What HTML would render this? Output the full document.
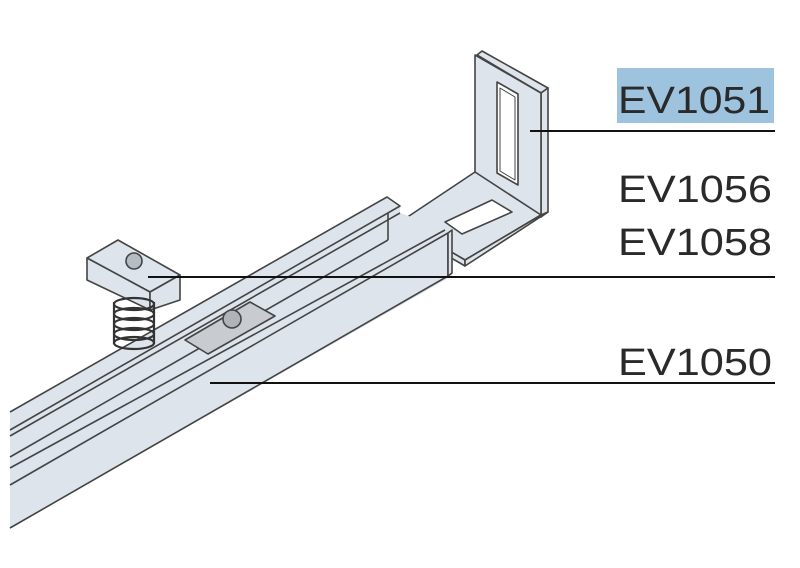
<!DOCTYPE html>
<html><head><meta charset="utf-8"><style>
html,body{margin:0;padding:0;background:#fff;}
svg{display:block;}
text{font-family:"Liberation Sans",sans-serif;font-size:38px;fill:#2a2a2a;}
</style></head><body>
<svg width="800" height="568" viewBox="0 0 800 568" xmlns="http://www.w3.org/2000/svg">
<g stroke="#444" stroke-width="1.6" stroke-linejoin="round" fill="#dde4eb">
<!-- bracket vertical plate -->
<polygon points="477,55 482,51 548,88 541,93"/>
<polygon points="541,93 548,88 548,212 541,217"/>
<polygon points="475,55 541,93 541,217 475,175"/>
<polygon points="497,82 518,94 518,185 497,173" fill="#fff"/>
<polygon points="500,88 515,97 515,180 500,171" fill="none" stroke-width="1"/>
<!-- bracket horizontal plate -->
<polygon points="475,172 541,215 465,260 400,222"/>
<polygon points="400,222 465,260 465,266 400,228"/>
<polygon points="465,260 541,215 548,212 465,266"/>
<polygon points="445,222 492,200 512,212 462,234" fill="#fff"/>
<!-- rail -->
<polygon points="10,412 387,197 400,206 400,213 448,230 452,233 452,276 10,528" stroke="none"/>
<polyline points="10,412 387,197 400,206 10,430" fill="none"/>
<polyline points="10,485 448,233 448,276 10,528" fill="none"/>
<polygon points="448,233 452,230 452,273 448,276"/>
<line x1="10" y1="436" x2="400" y2="213"/>
<line x1="10" y1="457" x2="388" y2="240"/>
<line x1="10" y1="468" x2="445" y2="230"/>
<line x1="388" y1="213" x2="388" y2="240"/>
<!-- plate in channel -->
<polygon points="185,340 250,302 275,316 208,354" fill="#c8ccd0"/>
<circle cx="232" cy="319" r="9" fill="#aeb4b9"/>
<!-- cage nut -->
<polygon points="87,258 118,240 180,275 150,292" />
<polygon points="87,258 150,292 150,310 87,280"/>
<polygon points="150,292 180,275 180,300 150,310"/>
<circle cx="134" cy="261" r="8" fill="#b5bcc2"/>
</g>
<!-- spring -->
<g stroke="#333" stroke-width="2.2" fill="none">
<ellipse cx="134" cy="304" rx="20" ry="6"/>
<ellipse cx="134" cy="314" rx="20" ry="6"/>
<ellipse cx="134" cy="324" rx="20" ry="6"/>
<ellipse cx="134" cy="334" rx="20" ry="6"/>
<ellipse cx="134" cy="343" rx="20" ry="6"/>
<line x1="114" y1="302" x2="114" y2="344"/>
<line x1="154" y1="302" x2="154" y2="344"/>
</g>
<!-- labels -->
<rect x="617" y="68" width="157" height="55" fill="#9ec3df"/>
<g stroke="#111" stroke-width="2">
<line x1="530" y1="131" x2="775" y2="131"/>
<line x1="148" y1="277" x2="775" y2="277"/>
<line x1="210" y1="383" x2="775" y2="383"/>
</g>
<text x="618" y="113" textLength="152" lengthAdjust="spacingAndGlyphs">EV1051</text>
<text x="618" y="202" textLength="154" lengthAdjust="spacingAndGlyphs">EV1056</text>
<text x="618" y="255" textLength="154" lengthAdjust="spacingAndGlyphs">EV1058</text>
<text x="618" y="375" textLength="154" lengthAdjust="spacingAndGlyphs">EV1050</text>
</svg>
</body></html>
